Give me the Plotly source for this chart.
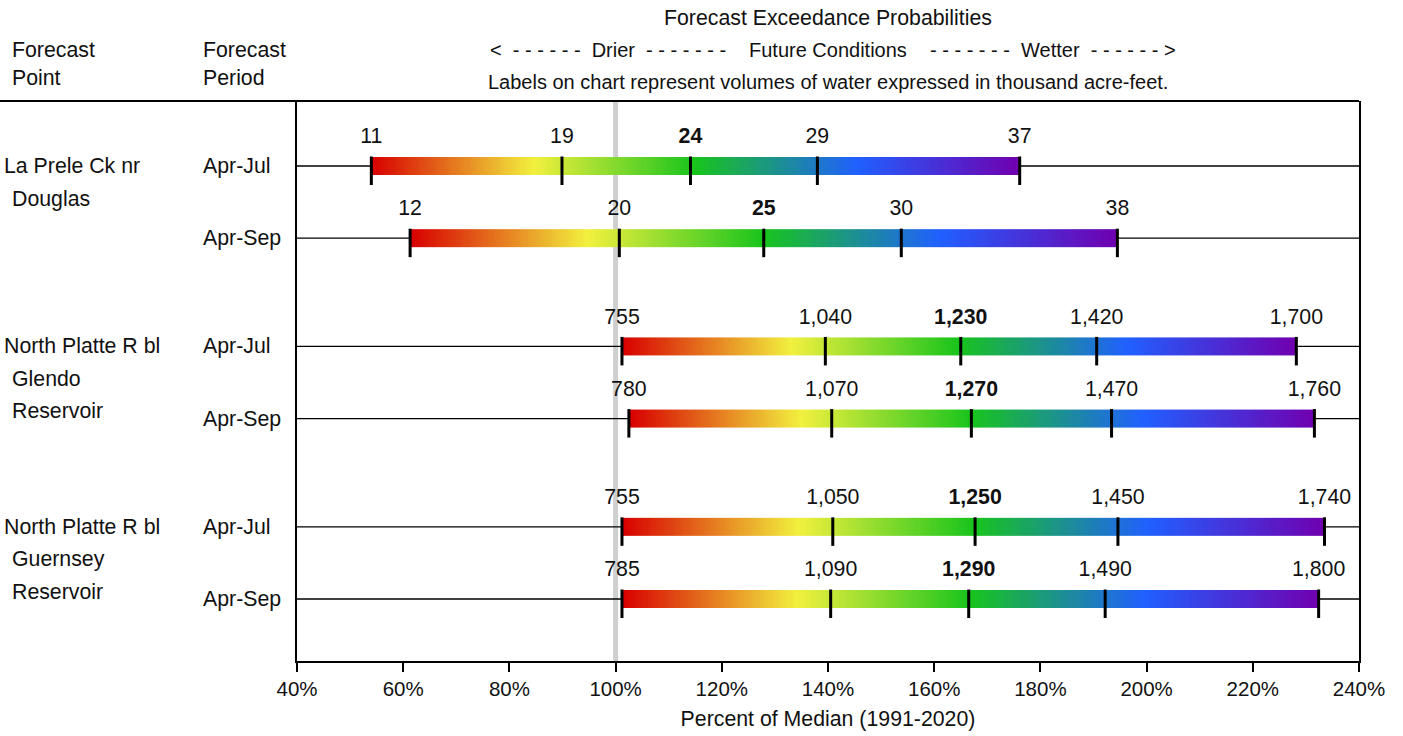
import numpy as np
import plotly.graph_objs as go

# forecast points (one entry per line of the label) and periods
point_lines = [
    ["La Prele Ck nr", "Douglas"],
    ["North Platte R bl", "Glendo", "Reservoir"],
    ["North Platte R bl", "Guernsey", "Reservoir"],
]
periods = ["Apr-Jul", "Apr-Sep", "Apr-Jul", "Apr-Sep", "Apr-Jul", "Apr-Sep"]

# exceedance volumes (kaf): 90%, 70%, 50%, 30%, 10%
volumes = [
    [11, 19, 24, 29, 37],
    [12, 20, 25, 30, 38],
    [755, 1040, 1230, 1420, 1700],
    [780, 1070, 1270, 1470, 1760],
    [755, 1050, 1250, 1450, 1740],
    [785, 1090, 1290, 1490, 1800],
]
# same points as percent of median
pct_median = [
    [54.0, 89.9, 114.1, 138.0, 176.1],
    [61.3, 100.7, 127.9, 153.8, 194.5],
    [101.2, 139.5, 165.0, 190.6, 228.2],
    [102.5, 140.7, 167.0, 193.4, 231.6],
    [101.2, 140.9, 167.7, 194.6, 233.5],
    [101.2, 140.5, 166.5, 192.2, 232.4],
]

x_ticks = list(range(40, 241, 20))
x_ticktext = [f"{v}%" for v in x_ticks]

# layout helpers
row_y = [0, 1, 2.5, 3.5, 5, 6]
group_first_row = [0, 2, 4]
X_MIN, X_MAX = 40, 240
PLOT_L, PLOT_R, PLOT_T, PLOT_B = 297, 1359, 101, 661
UNIT = 72.17  # px per y unit
FONT = "Arial, Liberation Sans, sans-serif"
FS = 21.3


def px_to_paper_x(px):
    return (px - PLOT_L) / (PLOT_R - PLOT_L)


def py_to_paper_y(py):
    return (PLOT_B - py) / (PLOT_B - PLOT_T)


colorscale = [
    [0.0, "#d80000"],
    [0.25, "#f2f03e"],
    [0.5, "#18c41c"],
    [0.75, "#2060ff"],
    [1.0, "#7000b0"],
]

fig = go.Figure()

# thin baselines outside the bars
base_x, base_y = [], []
for r, p in zip(row_y, pct_median):
    base_x += [X_MIN, p[0], None, p[-1], X_MAX, None]
    base_y += [r, r, None, r, r, None]
fig.add_trace(go.Scatter(x=base_x, y=base_y, mode="lines",
                         line=dict(color="black", width=1.4),
                         hoverinfo="skip", showlegend=False))

# gradient bars
half = 9 / UNIT
for r, p in zip(row_y, pct_median):
    edges = np.linspace(p[0], p[-1], 301)
    z = np.linspace(0, 1, 300)
    fig.add_trace(go.Heatmap(x=edges, y=[r - half, r + half], z=[z],
                             colorscale=colorscale, zmin=0, zmax=1,
                             showscale=False, hoverinfo="skip"))

# value labels above ticks
for r, p, v in zip(row_y, pct_median, volumes):
    txt = [f"{val:,}" for val in v]
    txt[2] = f"<b>{txt[2]}</b>"
    fig.add_trace(go.Scatter(x=p, y=[r - 28 / UNIT] * len(p), mode="text",
                             text=txt, textposition="middle center",
                             textfont=dict(size=FS, color="#111", family=FONT),
                             cliponaxis=False, hoverinfo="skip", showlegend=False))

# tick marks on the bars
shapes = []
for r, p in zip(row_y, pct_median):
    for val in p:
        shapes.append(dict(type="line", xref="x", yref="y", x0=val, x1=val,
                           y0=r - 9.5 / UNIT, y1=r + 19 / UNIT,
                           line=dict(color="black", width=3), layer="above"))

# median reference line
shapes.append(dict(type="line", xref="x", yref="paper", x0=100, x1=100, y0=0, y1=1,
                   line=dict(color="#cfcfcf", width=5), layer="below"))
# top rule
shapes.append(dict(type="line", xref="paper", yref="paper", x0=px_to_paper_x(0), x1=1,
                   y0=1, y1=1, line=dict(color="black", width=2)))

annotations = []


def add_text(text, px, py, anchor="left", size=FS, yref="paper"):
    y = py_to_paper_y(py) if yref == "paper" else py
    annotations.append(dict(text=text, x=px_to_paper_x(px), xref="paper",
                            y=y, yref=yref, xanchor=anchor, yanchor="middle",
                            showarrow=False, font=dict(size=size, color="#111", family=FONT)))


# headers
add_text("Forecast", 10, 50)
add_text("Point", 10, 78)
add_text("Forecast", 201, 50)
add_text("Period", 201, 78)
add_text("Forecast Exceedance Probabilities", 828, 18, "center")
add_text("<  - - - - - -  Drier  - - - - - - -", 728, 50, "right", size=20)
add_text("Future Conditions", 828, 50, "center", size=20)
add_text("- - - - - - -  Wetter  - - - - - - >", 928, 50, "left", size=20)
add_text("Labels on chart represent volumes of water expressed in thousand acre-feet.",
         828, 82, "center", size=20)

# forecast point names
for g, lines in zip(group_first_row, point_lines):
    r0 = row_y[g]
    for i, line in enumerate(lines):
        add_text(line, 2 if i == 0 else 10, r0 + i * 32.5 / UNIT, yref="y")

# periods
for r, per in zip(row_y, periods):
    add_text(per, 201, r, yref="y")

fig.update_layout(
    width=1403,
    height=736,
    plot_bgcolor="white",
    paper_bgcolor="white",
    margin=dict(l=PLOT_L, r=1403 - PLOT_R, t=PLOT_T, b=736 - PLOT_B),
    shapes=shapes,
    annotations=annotations,
    showlegend=False,
    font=dict(family=FONT, size=FS, color="#111"),
)
fig.update_xaxes(range=[X_MIN, X_MAX], tickvals=x_ticks, ticktext=x_ticktext,
                 showgrid=False, zeroline=False, showline=True, linewidth=1.5,
                 linecolor="black", ticks="outside", ticklen=9, tickwidth=1.5,
                 tickcolor="black", tickfont=dict(size=20.5), automargin=False,
                 title=dict(text="Percent of Median (1991-2020)", font=dict(size=FS),
                            standoff=12))
fig.update_yaxes(range=[6 + 62 / UNIT, -65 / UNIT], showgrid=False, zeroline=False,
                 showticklabels=False, showline=True, mirror=True, linewidth=1.5,
                 linecolor="black", ticks="", automargin=False)

fig.write_html("out.html", config={"displayModeBar": False},
               post_script="document.body.style.margin = '0';")
